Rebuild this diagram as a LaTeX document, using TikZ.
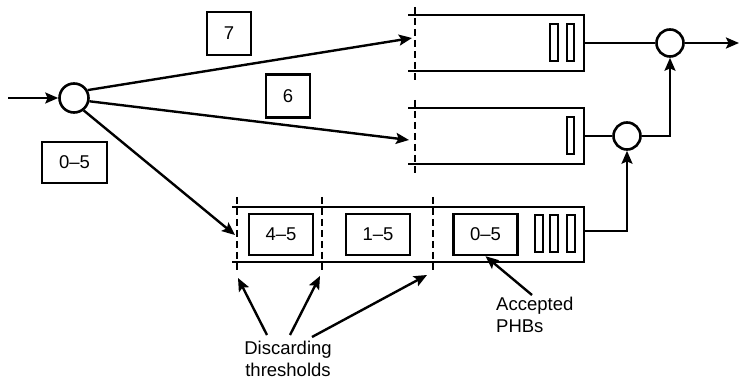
\documentclass[tikz,border=0pt]{standalone}
\usepackage{fontspec}
\setmainfont{Liberation Sans}
\usetikzlibrary{arrows.meta}
\tikzset{
  ln/.style={line width=2.4pt},
  arr/.style={ln,-{Stealth[length=13pt,width=11pt,inset=2.5pt]}},
  thr/.style={line width=2.4pt,dash pattern=on 7pt off 4pt},
  lbl/.style={draw,line width=2.4pt,minimum width=44pt,minimum height=43pt,inner sep=0pt,font=\fontsize{18.5}{22}\selectfont},
  wbox/.style={lbl,minimum width=64pt,minimum height=41pt},
  pkt/.style={draw,line width=2pt,inner sep=0pt,minimum width=7.5pt,minimum height=37pt},
  sched/.style={circle,draw,line width=2.6pt,minimum size=27pt,inner sep=0pt},
  txt/.style={inner sep=0pt,font=\fontsize{18.5}{22}\selectfont}
}
\begin{document}
\begin{tikzpicture}[x=1pt,y=-1pt]
\useasboundingbox (0,0) rectangle (739,379);
% classifier
\coordinate (in) at (8,98);
\node[sched,minimum size=29pt] (cls) at (74,98) {};
\draw[arr] (in) -- (cls);
% labels on branches
\node[lbl] (l7) at (229,33.5) {7};
\node[lbl] (l6) at (288,96) {6};
\node[lbl,minimum width=65pt,minimum height=41pt] (l05) at (74.5,162.5) {0–5};
% top queue
\draw[ln] (408,15) -- (584,15) -- (584,71) -- (408,71);
\draw[thr] (415,7) -- (415,80);
\coordinate (q1in) at (412,38);
\coordinate (q1out) at (584,43);
\node[pkt] (p1a) at (554,43) {};
\node[pkt] (p1b) at (570.5,43) {};
% middle queue
\draw[ln] (408,108) -- (584,108) -- (584,164) -- (408,164);
\draw[thr] (415,100) -- (415,173);
\coordinate (q2in) at (409,140);
\coordinate (q2out) at (584,136);
\node[pkt] (p2a) at (570.5,135.5) {};
% bottom queue
\draw[ln] (232,207) -- (584,207) -- (584,262) -- (232,262);
\draw[thr] (237,197) -- (237,270);
\draw[thr] (322,197) -- (322,270);
\draw[thr] (433,197) -- (433,270);
\coordinate (q3in) at (235,235);
\coordinate (q3out) at (584,231);
\coordinate (t1) at (238,278);
\coordinate (t2) at (320,276);
\coordinate (t3) at (427,275);
\node[wbox] (b45) at (281,234.5) {4–5};
\node[wbox] (b15) at (378,234.5) {1–5};
\node[wbox] (b05) at (485.5,234.5) {0–5};
\node[pkt] (p3a) at (539,233.5) {};
\node[pkt] (p3b) at (554,233.5) {};
\node[pkt] (p3c) at (571,233.5) {};
% schedulers
\node[sched] (s1) at (670,43) {};
\node[sched] (s2) at (627,136) {};
\coordinate (out) at (739,43);
% branches from classifier
\draw[arr] (cls.30) -- (q1in);
\draw[arr] (cls.-12) -- (q2in);
\draw[arr] (cls.-52) -- (q3in);
% outputs
\draw[ln] (q1out) -- (s1);
\draw[arr] (s1) -- (out);
\draw[ln] (q2out) -- (s2);
\draw[arr] (s2.east) -| (s1.south);
\draw[arr] (q3out) -| (s2.south);
% annotations
\node[txt,align=center,anchor=north] (disc) at (288,340.5) {Discarding\\thresholds};
\coordinate (d1) at (267,335);
\coordinate (d2) at (290,335);
\coordinate (d3) at (312,337);
\draw[arr] (d1) -- (t1);
\draw[arr] (d2) -- (t2);
\draw[arr] (d3) -- (t3);
\node[txt,align=left,anchor=north west] (acc) at (496,297) {Accepted\\PHBs};
\coordinate (a1) at (532,295);
\draw[arr] (a1) -- (b05.south);
\end{tikzpicture}
\end{document}
